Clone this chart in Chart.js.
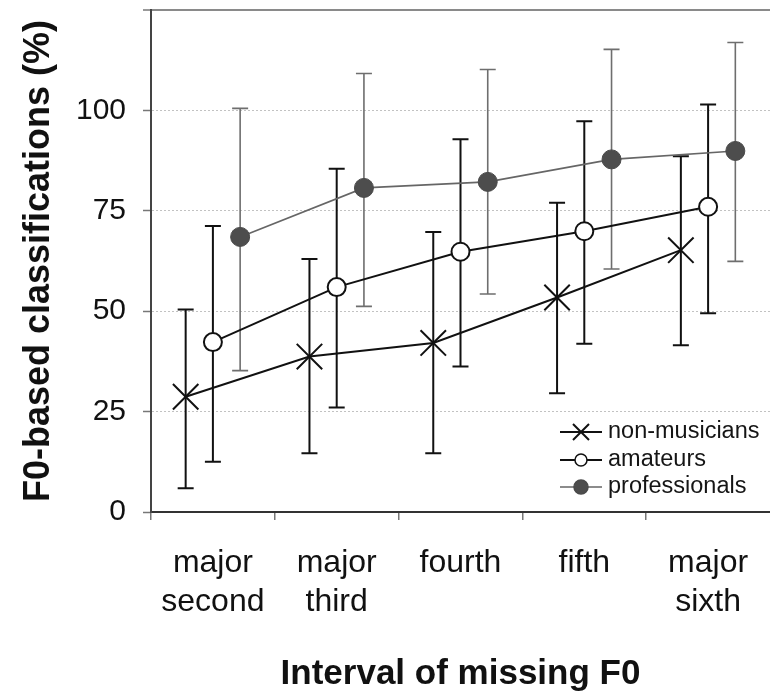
<!DOCTYPE html>
<html>
<head>
<meta charset="utf-8">
<script src="https://cdn.jsdelivr.net/npm/chart.js@4"></script>
<style>
  html, body { margin: 0; padding: 0; background: #fff; }
  #wrap { width: 770px; height: 700px; }
</style>
</head>
<body>
<div id="wrap"><canvas id="chart"></canvas></div>
<script>
// categories and tick values
const intervals = [['major', 'second'], ['major', 'third'], 'fourth', 'fifth', ['major', 'sixth']];
const yTicks = [0, 25, 50, 75, 100];
const seriesNames = ['non-musicians', 'amateurs', 'professionals'];

// means and error bar ends (%)
const nonMusicians = [28.7, 38.7, 42.1, 53.4, 65.2];
const nonMusiciansLow = [5.9, 14.6, 14.6, 29.6, 41.5];
const nonMusiciansHigh = [50.4, 63.0, 69.7, 77.0, 88.6];

const amateurs = [42.3, 56.0, 64.8, 69.9, 76.0];
const amateursLow = [12.5, 26.0, 36.2, 41.9, 49.5];
const amateursHigh = [71.2, 85.5, 92.8, 97.3, 101.5];

const professionals = [68.5, 80.7, 82.2, 87.8, 89.9];
const professionalsLow = [35.2, 51.2, 54.3, 60.5, 62.4];
const professionalsHigh = [100.5, 109.2, 110.2, 115.2, 116.9];

const FONT = "'Liberation Sans', Arial, Helvetica, sans-serif";
Chart.defaults.font.family = FONT;
Chart.defaults.color = '#111';

// spread the three groups inside each interval
const toPoints = (values, shift) => values.map((v, i) => ({ x: i + 0.5 + shift, y: v }));

// error bars, drawn under the markers
const errorBars = {
  id: 'errorBars',
  beforeDatasetsDraw(chart) {
    const { ctx, scales: { x, y } } = chart;
    chart.data.datasets.forEach(ds => {
      ctx.save();
      ctx.strokeStyle = ds.errColor;
      ctx.lineWidth = ds.errWidth;
      ds.data.forEach((p, i) => {
        const px = x.getPixelForValue(p.x);
        const top = y.getPixelForValue(ds.errHigh[i]);
        const bot = y.getPixelForValue(ds.errLow[i]);
        ctx.beginPath();
        ctx.moveTo(px, top);
        ctx.lineTo(px, bot);
        ctx.moveTo(px - 8, top);
        ctx.lineTo(px + 8, top);
        ctx.moveTo(px - 8, bot);
        ctx.lineTo(px + 8, bot);
        ctx.stroke();
      });
      ctx.restore();
    });
  }
};

// legend sitting in the lower right of the plot
const insideLegend = {
  id: 'insideLegend',
  afterDraw(chart) {
    const { ctx, chartArea } = chart;
    const x0 = chartArea.left + 409;
    const rows = [chartArea.bottom - 80, chartArea.bottom - 52, chartArea.bottom - 25];
    ctx.save();
    chart.data.datasets.forEach((ds, i) => {
      const cy = rows[i];
      const mx = x0 + 21;
      ctx.strokeStyle = ds.borderColor;
      ctx.lineWidth = ds.borderWidth;
      ctx.beginPath();
      ctx.moveTo(x0, cy);
      ctx.lineTo(x0 + 42, cy);
      ctx.stroke();
      if (ds.pointStyle === 'crossRot') {
        ctx.beginPath();
        ctx.moveTo(mx - 8, cy - 8);
        ctx.lineTo(mx + 8, cy + 8);
        ctx.moveTo(mx + 8, cy - 8);
        ctx.lineTo(mx - 8, cy + 8);
        ctx.stroke();
      } else {
        ctx.beginPath();
        ctx.arc(mx, cy, i === 2 ? 7 : 6, 0, Math.PI * 2);
        ctx.fillStyle = ds.pointBackgroundColor;
        ctx.fill();
        ctx.lineWidth = 1.5;
        ctx.strokeStyle = ds.pointBorderColor;
        ctx.stroke();
      }
      ctx.fillStyle = '#151515';
      ctx.font = '23.5px ' + FONT;
      ctx.textBaseline = 'middle';
      ctx.fillText(ds.label, x0 + 48, cy);
    });
    ctx.restore();
  }
};

const isTop = c => c.tick && c.tick.value === 125;
const isZero = c => c.tick && c.tick.value === 0;

new Chart(document.getElementById('chart'), {
  type: 'line',
  data: {
    datasets: [
      {
        label: seriesNames[0],
        data: toPoints(nonMusicians, -0.22),
        errLow: nonMusiciansLow,
        errHigh: nonMusiciansHigh,
        errColor: '#111',
        errWidth: 2,
        borderColor: '#111',
        borderWidth: 2,
        pointStyle: 'crossRot',
        pointRadius: 18,
        pointBorderWidth: 2,
        pointBorderColor: '#111',
        pointBackgroundColor: '#111'
      },
      {
        label: seriesNames[1],
        data: toPoints(amateurs, 0),
        errLow: amateursLow,
        errHigh: amateursHigh,
        errColor: '#111',
        errWidth: 2,
        borderColor: '#111',
        borderWidth: 2,
        pointStyle: 'circle',
        pointRadius: 9,
        pointBorderWidth: 2,
        pointBorderColor: '#111',
        pointBackgroundColor: '#fff'
      },
      {
        label: seriesNames[2],
        data: toPoints(professionals, 0.22),
        errLow: professionalsLow,
        errHigh: professionalsHigh,
        errColor: '#6e6e6e',
        errWidth: 1.6,
        borderColor: '#666',
        borderWidth: 1.6,
        pointStyle: 'circle',
        pointRadius: 9.5,
        pointBorderWidth: 1,
        pointBorderColor: '#4a4a4a',
        pointBackgroundColor: '#4d4d4d'
      }
    ]
  },
  options: {
    responsive: true,
    maintainAspectRatio: false,
    animation: false,
    events: [],
    layout: { autoPadding: false, padding: { top: 10, left: 0, right: 0, bottom: 0 } },
    plugins: {
      legend: { display: false },
      tooltip: { enabled: false }
    },
    elements: { line: { tension: 0 } },
    scales: {
      x: { type: 'linear', display: false, min: 0, max: 5 },
      xc: {
        type: 'category',
        labels: intervals,
        position: 'bottom',
        offset: true,
        afterFit: axis => {
          axis.height = 188;
          axis.paddingLeft = 0;
          axis.paddingRight = 0;
        },
        grid: {
          offset: true,
          drawOnChartArea: false,
          tickLength: 8,
          tickColor: c => c.tick ? '#777' : 'rgba(0,0,0,0)',
          color: '#777',
          lineWidth: 1.5
        },
        border: { color: '#333', width: 2 },
        ticks: {
          font: { size: 32, lineHeight: 1.22 },
          color: '#111',
          padding: 24,
          maxRotation: 0,
          autoSkip: false
        },
        title: {
          display: true,
          text: 'Interval of missing F0',
          font: { size: 35, weight: 'bold' },
          color: '#111',
          padding: { top: 30, bottom: 5 }
        }
      },
      y: {
        min: 0,
        max: 125,
        afterBuildTicks: axis => { axis.ticks = [...yTicks, 125].map(v => ({ value: v })); },
        afterFit: axis => {
          axis.width = 151;
          axis.paddingTop = 0;
          axis.paddingBottom = 0;
        },
        ticks: {
          callback: v => v === 125 ? '' : v,
          font: { size: 30 },
          color: '#111',
          padding: 17
        },
        grid: {
          color: c => isTop(c) ? '#8a8a8a' : isZero(c) ? 'rgba(0,0,0,0)' : '#c2c2c2',
          lineWidth: c => isTop(c) ? 2 : 1,
          tickLength: 8,
          tickColor: '#777',
          tickWidth: 1.5
        },
        border: {
          color: '#444',
          width: 2,
          dash: c => isTop(c) ? [] : [2, 2]
        },
        title: {
          display: true,
          text: 'F0-based classifications (%)',
          font: { size: 36, weight: 'bold' },
          color: '#111',
          padding: { top: 17, bottom: 10 }
        }
      }
    }
  },
  plugins: [errorBars, insideLegend]
});
</script>
</body>
</html>
